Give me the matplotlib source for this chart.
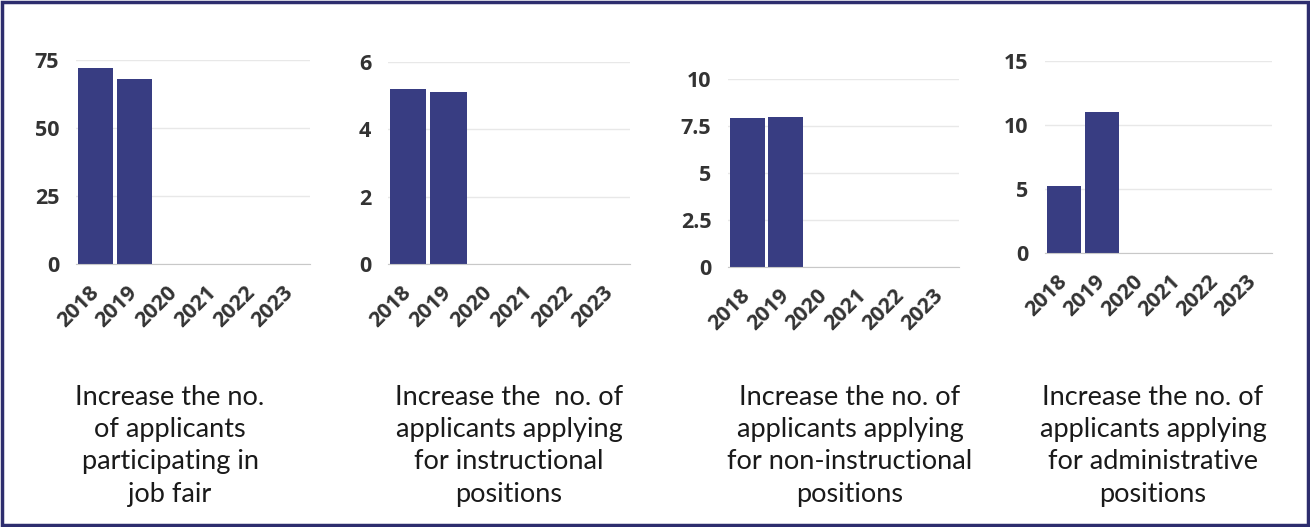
import matplotlib
matplotlib.use("Agg")
import matplotlib.pyplot as plt
from matplotlib.patches import Rectangle
from matplotlib.transforms import ScaledTranslation

W, H = 1310, 527

years = ["2018", "2019", "2020", "2021", "2022", "2023"]

# values (no data for 2020-2023)
job_fair = [72, 68, 0, 0, 0, 0]
instructional = [5.2, 5.1, 0, 0, 0, 0]
non_instructional = [7.95, 8.0, 0, 0, 0, 0]
administrative = [5.2, 11, 0, 0, 0, 0]

captions = [
    "Increase the no.\nof applicants\nparticipating in\njob fair",
    "Increase the  no. of\napplicants applying\nfor instructional\npositions",
    "Increase the no. of\napplicants applying\nfor non-instructional\npositions",
    "Increase the no. of\napplicants applying\nfor administrative\npositions",
]

series = [job_fair, instructional, non_instructional, administrative]
yticks = [[0, 25, 50, 75], [0, 2, 4, 6], [0, 2.5, 5, 7.5, 10], [0, 5, 10, 15]]
yticklabels = [["0", "25", "50", "75"], ["0", "2", "4", "6"],
               ["0", "2.5", "5", "7.5", "10"], ["0", "5", "10", "15"]]

# axes boxes in pixels: left, right, top, bottom
boxes = [(76, 310, 60, 264), (388, 630, 62, 264),
         (728, 959, 79, 267), (1045, 1272, 61, 253)]
caption_x = [170, 509, 850, 1153]

bar_color = "#383d82"
text_color = "#333333"

fig = plt.figure(figsize=(W / 100, H / 100), dpi=100)
fig.patch.set_facecolor("white")

shift = ScaledTranslation(30 / 100, 0, fig.dpi_scale_trans)

for i in range(4):
    l, r, t, b = boxes[i]
    ax = fig.add_axes([l / W, 1 - b / H, (r - l) / W, (b - t) / H])
    ax.bar(range(len(years)), series[i], width=0.9, color=bar_color,
           linewidth=0, zorder=3)
    ax.set_xlim(-0.5, 5.5)
    ax.set_ylim(yticks[i][0], yticks[i][-1])
    ax.set_yticks(yticks[i])
    ax.set_yticklabels(yticklabels[i], fontsize=15.5, fontweight="bold",
                       color=text_color, family="Open Sans")
    ax.set_xticks(range(len(years)))
    ax.set_xticklabels(years, rotation=45, ha="right", va="center",
                       rotation_mode="anchor", fontsize=15.5, fontweight="bold",
                       color=text_color, family="Open Sans")
    for lab in ax.get_xticklabels():
        lab.set_transform(lab.get_transform() + shift)
    ax.tick_params(axis="both", length=0)
    ax.tick_params(axis="y", pad=12)
    ax.tick_params(axis="x", pad=18)
    ax.grid(axis="y", color="#e8e8e8", linewidth=1, zorder=0)
    ax.set_axisbelow(True)
    for s in ["top", "right", "left"]:
        ax.spines[s].set_visible(False)
    ax.spines["bottom"].set_color("#c8c8c8")
    ax.spines["bottom"].set_zorder(4)
    ax.patch.set_alpha(0)

    fig.text(caption_x[i] / W, 1 - 385 / H, captions[i], ha="center", va="top",
             fontsize=19.5, color="#1a1a1a", family="Lato",
             linespacing=1.36)

# navy frame around the whole picture
fig.patches.append(Rectangle((2 / W, 2 / H), (W - 4) / W, (H - 4) / H,
                             transform=fig.transFigure, fill=False,
                             edgecolor="#2d2d6e", linewidth=2.5))

fig.savefig("out.png", dpi=100)
